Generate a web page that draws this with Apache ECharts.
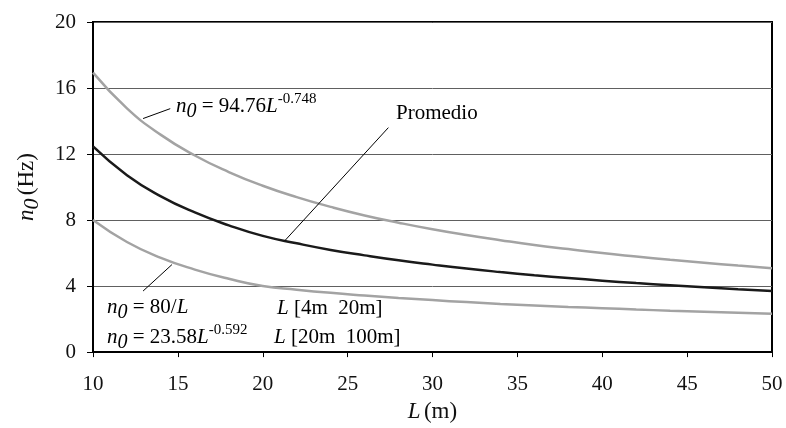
<!DOCTYPE html>
<html>
<head>
<meta charset="utf-8">
<script src="https://cdn.jsdelivr.net/npm/echarts@6/dist/echarts.min.js"></script>
<style>
html,body{margin:0;padding:0;background:#fff;}
#c{width:786px;height:428px;}
</style>
</head>
<body>
<div id="c"></div>
<script>
// Span L (m)
const L = [10,12,14,16,18,20,22,24,26,28,30,32,34,36,38,40,42,44,46,48,50];
// n0 = 94.76 L^-0.748 (upper curve)
const upper = [16.93,14.77,13.16,11.91,10.91,10.08,9.39,8.80,8.28,7.84,7.44,7.09,6.78,6.49,6.24,6.00,5.79,5.59,5.41,5.24,5.08];
// Promedio (middle curve)
const promedio = [12.46,10.72,9.44,8.46,7.68,7.04,6.59,6.19,5.86,5.56,5.30,5.06,4.85,4.66,4.49,4.33,4.18,4.05,3.93,3.81,3.70];
// n0 = 80/L (L<=20), n0 = 23.58 L^-0.592 (L>=20) (lower curve)
const lower = [8.00,6.67,5.71,5.00,4.44,4.00,3.78,3.59,3.43,3.28,3.15,3.03,2.92,2.83,2.74,2.66,2.58,2.51,2.45,2.38,2.33];
const xTicks = [10,15,20,25,30,35,40,45,50];
const yTicks = [0,4,8,12,16,20];

// leader lines (data coordinates): [from, to]
const leaderUpper = [[12.95,14.15],[14.55,14.75]];
const leaderProm = [[27.4,13.6],[21.3,6.75]];
const leaderLower = [[14.65,5.3],[12.95,3.7]];

const FF = '"Liberation Serif","Times New Roman",serif';
const pair = (xs, ys) => xs.map((x,i)=>[x, ys[i]]);
const rich = {
  i:{fontFamily:FF,fontSize:21,fontStyle:'italic',color:'#111'},
  s:{fontFamily:FF,fontSize:20,fontStyle:'italic',color:'#111',padding:[10,0,0,0]},
  r:{fontFamily:FF,fontSize:21,color:'#111'},
  p:{fontFamily:FF,fontSize:15,color:'#111',padding:[0,0,14,0]}
};
const leader = (pts) => ({
  silent:true, symbol:'none', label:{show:false},
  lineStyle:{color:'#000',width:1,type:'solid'},
  data:[[{coord:pts[0]},{coord:pts[1]}]]
});

const chart = echarts.init(document.getElementById('c'), null, {renderer:'canvas'});
chart.setOption({
  animation:false,
  backgroundColor:'#fff',
  grid:{left:93,right:14,top:22,bottom:71,show:true,borderColor:'#000',borderWidth:2,backgroundColor:'transparent'},
  xAxis:{
    type:'value',min:10,max:50,interval:5,
    name:'{i|L} {r|(m)}',nameLocation:'middle',nameGap:47,
    nameTextStyle:{rich:{i:{fontFamily:FF,fontSize:23,fontStyle:'italic',color:'#111'},r:{fontFamily:FF,fontSize:23,color:'#111'}}},
    axisLine:{show:true,lineStyle:{color:'#000',width:2}},
    axisTick:{show:true,length:5,lineStyle:{color:'#000',width:1}},
    axisLabel:{fontFamily:FF,fontSize:21,color:'#111',margin:22,formatter:v=>xTicks.includes(v)?String(v):''},
    splitLine:{show:false}
  },
  yAxis:{
    type:'value',min:0,max:20,interval:4,
    name:'{i|n}{s|0} {r|(Hz)}',nameLocation:'middle',nameGap:50,nameRotate:90,
    nameTextStyle:{rich:{i:{fontFamily:FF,fontSize:23,fontStyle:'italic',color:'#111'},s:{fontFamily:FF,fontSize:22,fontStyle:'italic',color:'#111',padding:[10,0,0,0]},r:{fontFamily:FF,fontSize:23,color:'#111'}}},
    axisLine:{show:true,lineStyle:{color:'#000',width:2}},
    axisTick:{show:true,length:6,lineStyle:{color:'#000',width:1}},
    axisLabel:{fontFamily:FF,fontSize:21,color:'#111',margin:17,formatter:v=>yTicks.includes(v)?String(v):''},
    splitLine:{show:true,lineStyle:{color:'#606060',width:1}}
  },
  series:[
    {type:'line',name:'upper',data:pair(L,upper),smooth:true,showSymbol:false,symbol:'none',
     lineStyle:{color:'#a3a3a3',width:2.5},markLine:leader(leaderUpper)},
    {type:'line',name:'promedio',data:pair(L,promedio),smooth:true,showSymbol:false,symbol:'none',
     lineStyle:{color:'#1a1a1a',width:2.5},markLine:leader(leaderProm)},
    {type:'line',name:'lower',data:pair(L,lower),smooth:true,showSymbol:false,symbol:'none',
     lineStyle:{color:'#a3a3a3',width:2.5},markLine:leader(leaderLower)}
  ],
  graphic:[
    {type:'text',left:176,top:92,silent:true,style:{text:'{i|n}{s|0}{r| = 94.76}{i|L}{p|-0.748}',rich:rich}},
    {type:'text',left:396,top:103,silent:true,style:{text:'{r|Promedio}',rich:rich}},
    {type:'text',left:107,top:297,silent:true,style:{text:'{i|n}{s|0}{r| = 80/}{i|L}',rich:rich}},
    {type:'text',left:277,top:298,silent:true,style:{text:'{i|L}{r| [4m  20m]}',rich:rich}},
    {type:'text',left:107,top:323,silent:true,style:{text:'{i|n}{s|0}{r| = 23.58}{i|L}{p|-0.592}',rich:rich}},
    {type:'text',left:274,top:327,silent:true,style:{text:'{i|L}{r| [20m  100m]}',rich:rich}}
  ]
});
</script>
</body>
</html>
